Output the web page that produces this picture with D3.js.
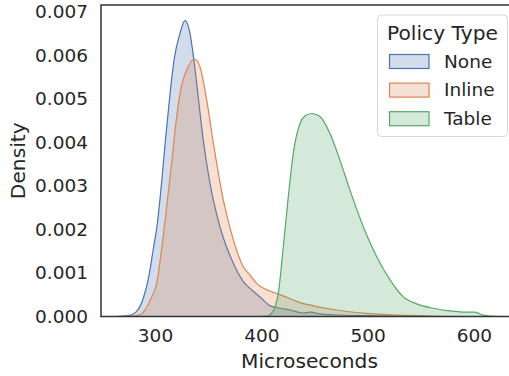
<!DOCTYPE html>
<html lang="en">
<head>
    <meta charset="UTF-8">
    <title>Policy Type KDE</title>
    <script src="https://cdnjs.cloudflare.com/ajax/libs/d3/7.8.5/d3.min.js"></script>
    <style>
        body {
            margin: 0;
            background: white;
            font-family: "DejaVu Sans", sans-serif;
        }
        svg { display: block; }
        .tick text { fill: #262626; font-size: 18.5px; font-family: "DejaVu Sans", sans-serif; }
    </style>
</head>
<body>
    <div id="chart"></div>
    <script>
        // Series names and colours (seaborn "deep")
        const seriesNames = ["None", "Inline", "Table"];
        const seriesColors = ["#4c72b0", "#dd8452", "#55a868"];

        // Density curves (microseconds, density)
        const noneX = [262, 275, 282, 289, 294, 298.4, 302, 306.3, 310, 314.1, 318, 323.5, 328.2, 332.9, 336, 339.2, 345.4, 351.7, 361.1, 373.7, 383.1, 392.5, 400, 408, 417.6, 427, 439.5, 445.8, 455, 467.7, 500, 530, 545];
        const noneY = [0, 0.00002, 0.0001, 0.00042, 0.0009, 0.00155, 0.0021, 0.0031, 0.0041, 0.0051, 0.0059, 0.0065, 0.00679, 0.0065, 0.006, 0.00535, 0.00405, 0.00306, 0.00206, 0.00122, 0.0008, 0.00058, 0.00042, 0.00025, 0.00019, 0.00015, 0.00008, 0.0001, 0.00006, 0.00004, 0.00002, 0.00001, 0];

        const inlineX = [275, 285, 292, 296, 301.6, 306, 311, 316, 320.4, 325, 329.8, 337, 342.3, 348.6, 354.9, 364.3, 373.7, 383.1, 389.4, 395.7, 408.2, 414.5, 425, 436.4, 450, 467.7, 499, 530, 560, 580];
        const inlineY = [0, 0.00003, 0.0002, 0.0004, 0.00076, 0.0015, 0.00252, 0.0036, 0.00459, 0.0053, 0.00566, 0.00591, 0.00573, 0.00497, 0.00398, 0.00267, 0.00176, 0.00114, 0.00095, 0.00076, 0.00058, 0.00053, 0.00043, 0.00032, 0.00024, 0.00016, 0.00007, 0.00003, 0.00001, 0];

        const tableX = [395, 405, 410, 416, 420.7, 425.4, 430.1, 436.4, 441, 447.4, 455.2, 464.6, 474, 483.4, 496, 508.6, 521.1, 533.6, 546.1, 561.8, 577.5, 593.1, 600.9, 608.8, 615, 625];
        const tableY = [0, 0.00001, 0.00008, 0.00053, 0.0016, 0.00275, 0.00375, 0.00443, 0.0046, 0.00466, 0.00459, 0.0042, 0.00359, 0.0029, 0.00206, 0.00137, 0.00084, 0.00045, 0.00029, 0.00019, 0.00013, 0.0001, 0.0001, 0.00003, 0.00001, 0];

        // Tick labels
        const xTicks = [300, 400, 500, 600];
        const yTicks = [0, 0.001, 0.002, 0.003, 0.004, 0.005, 0.006, 0.007];

        const width = 509, height = 376;
        const margin = { left: 101, top: 5, right: -9, bottom: 59.5 };
        const plotW = width - margin.left - margin.right;
        const plotH = height - margin.top - margin.bottom;

        const svg = d3.select("#chart").append("svg")
            .attr("width", width)
            .attr("height", height);

        const x = d3.scaleLinear().domain([249.2, 641.5]).range([margin.left, margin.left + plotW]);
        const y = d3.scaleLinear().domain([0, 0.00715]).range([margin.top + plotH, margin.top]);

        const series = [
            { name: seriesNames[0], color: seriesColors[0], pts: d3.zip(noneX, noneY) },
            { name: seriesNames[1], color: seriesColors[1], pts: d3.zip(inlineX, inlineY) },
            { name: seriesNames[2], color: seriesColors[2], pts: d3.zip(tableX, tableY) }
        ];

        const area = d3.area()
            .x(d => x(d[0]))
            .y0(y(0))
            .y1(d => y(d[1]))
            .curve(d3.curveMonotoneX);

        const line = d3.line()
            .x(d => x(d[0]))
            .y(d => y(d[1]))
            .curve(d3.curveMonotoneX);

        // fills then edges
        const g = svg.append("g");
        series.forEach(s => {
            g.append("path")
                .attr("d", area(s.pts))
                .attr("fill", s.color)
                .attr("fill-opacity", 0.25);
            g.append("path")
                .attr("d", line(s.pts))
                .attr("fill", "none")
                .attr("stroke", s.color)
                .attr("stroke-width", 1.2);
        });

        // axes (no tick marks, seaborn white style)
        svg.append("g")
            .attr("transform", `translate(0,${margin.top + plotH})`)
            .call(d3.axisBottom(x).tickValues(xTicks).tickSize(0).tickPadding(12.5).tickFormat(d3.format("d")))
            .call(a => a.select(".domain").remove());

        svg.append("g")
            .attr("transform", `translate(${margin.left},0)`)
            .call(d3.axisLeft(y).tickValues(yTicks).tickSize(0).tickPadding(13).tickFormat(d3.format(".3f")))
            .call(a => a.select(".domain").remove());

        // frame
        svg.append("rect")
            .attr("x", margin.left)
            .attr("y", margin.top)
            .attr("width", plotW)
            .attr("height", plotH)
            .attr("fill", "none")
            .attr("stroke", "#333")
            .attr("stroke-width", 1.5);

        // axis labels
        svg.append("text")
            .attr("x", margin.left + plotW / 2)
            .attr("y", 368)
            .attr("text-anchor", "middle")
            .attr("fill", "#262626")
            .attr("font-size", "20.2px")
            .text("Microseconds");

        svg.append("text")
            .attr("transform", `translate(25,${margin.top + plotH / 2}) rotate(-90)`)
            .attr("text-anchor", "middle")
            .attr("fill", "#262626")
            .attr("font-size", "20.2px")
            .text("Density");

        // legend
        const lg = svg.append("g");
        lg.append("rect")
            .attr("x", 377.5).attr("y", 15)
            .attr("width", 130).attr("height", 121.5)
            .attr("rx", 4)
            .attr("fill", "white").attr("fill-opacity", 0.8)
            .attr("stroke", "#d6d6d6").attr("stroke-width", 1);
        lg.append("text")
            .attr("x", 442.5).attr("y", 40)
            .attr("text-anchor", "middle")
            .attr("fill", "#262626")
            .attr("font-size", "20.2px")
            .text("Policy Type");
        series.forEach((s, i) => {
            const yy = 54.5 + i * 28.6;
            lg.append("rect")
                .attr("x", 389.5).attr("y", yy)
                .attr("width", 39.5).attr("height", 14)
                .attr("fill", s.color).attr("fill-opacity", 0.25)
                .attr("stroke", s.color).attr("stroke-width", 1.2);
            lg.append("text")
                .attr("x", 444).attr("y", yy + 13)
                .attr("fill", "#262626")
                .attr("font-size", "18.5px")
                .text(s.name);
        });
    </script>
</body>
</html>
